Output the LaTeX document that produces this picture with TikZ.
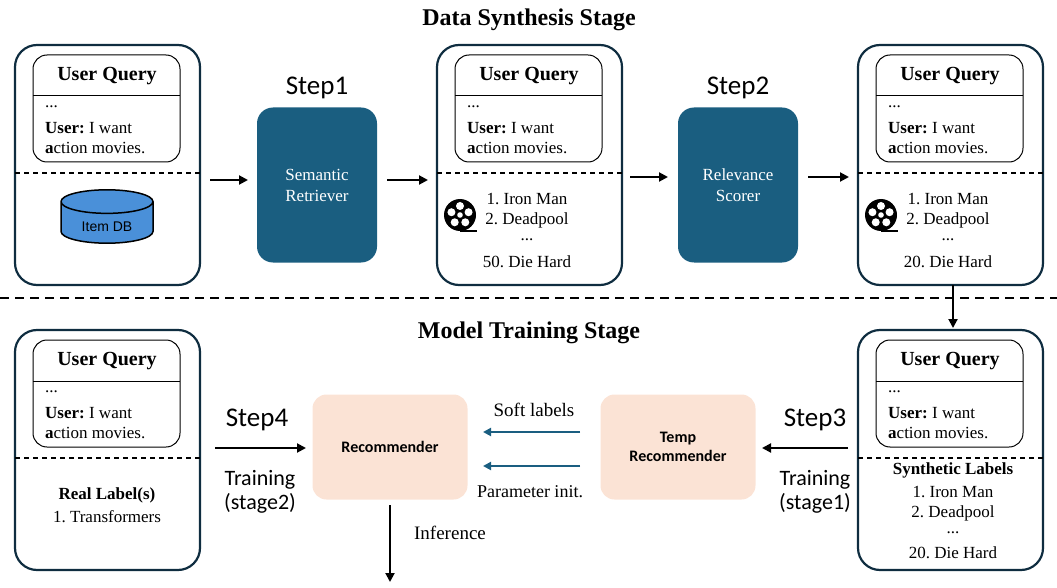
\documentclass[tikz,border=0pt]{standalone}
\usepackage{fontspec}
\setmainfont{Liberation Serif}
\newfontfamily\cf{Carlito}
\newfontfamily\hf{Liberation Sans}
\usetikzlibrary{shapes.geometric,arrows.meta}
\definecolor{dk}{HTML}{0F2D40}
\definecolor{teal}{HTML}{1A5E80}
\definecolor{peach}{HTML}{FBE3D5}
\definecolor{dbblue}{HTML}{4A90D9}
\frenchspacing
\begin{document}
\begin{tikzpicture}[x=1pt,y=-1pt,
 outer/.style={draw=dk,line width=2.2pt,rounded corners=22pt},
 inner/.style={draw=black,line width=1pt,rounded corners=14pt},
 proc/.style={fill=teal,rounded corners=16pt},
 pch/.style={fill=peach,rounded corners=14pt},
 arr/.style={-{Triangle[length=9pt,width=9pt]},line width=2pt},
 barr/.style={-{Triangle[length=8pt,width=8pt]},line width=2pt,draw=teal},
 txt/.style={font=\fontsize{17}{19}\selectfont,inner sep=0pt},
 ttl/.style={font=\fontsize{24}{26}\selectfont\bfseries,inner sep=0pt},
 uq/.style={font=\fontsize{20}{22}\selectfont\bfseries,inner sep=0pt},
 stp/.style={font=\cf\fontsize{27}{29}\selectfont,inner sep=0pt},
 lbl/.style={font=\fontsize{19}{21}\selectfont,inner sep=0pt,align=center}]
\useasboundingbox (0,0) rectangle (1057,588);
\node[ttl] (t1) at (529,20) {Data Synthesis Stage};
\node[ttl] (t2) at (529,333) {Model Training Stage};
\draw[line width=2pt,dash pattern=on 9pt off 6pt] (0,298) -- (1057,298);
\foreach \X/\Y/\W in {15/45/b1,437/45/b2,858/45/b3,15/330/b4,858/330/b5}{
 \draw[outer] (\X,\Y) rectangle ++(185,240);
 \draw[inner] (\X+18,\Y+10) rectangle ++(147,107);
 \draw[line width=1pt] (\X+18,\Y+51) -- ++(147,0);
 \draw[line width=1.2pt,dash pattern=on 5pt off 4pt] (\X,\Y+128) -- ++(185,0);
 \node[uq] at (\X+92,\Y+31) {User Query};
 \node[txt,anchor=west] at (\X+30,\Y+62) {...};
 \node[txt,anchor=west] at (\X+30,\Y+83) {\textbf{User:} I want};
 \node[txt,anchor=west] at (\X+30,\Y+103) {\textbf{a}ction movies.};
}
\node[cylinder,shape border rotate=90,aspect=0.3,draw=black,line width=1.5pt,fill=dbblue,minimum height=48pt,minimum width=92pt,inner xsep=14pt,inner ysep=8pt,font=\hf\fontsize{14}{15}\selectfont] (db) at (107,227) {Item DB};
\node[proc,minimum width=120pt,minimum height=155pt,text=white,align=center,font=\fontsize{17}{21}\selectfont] (sr) at (317,185) {Semantic\\Retriever};
\node[proc,minimum width=120pt,minimum height=155pt,text=white,align=center,font=\fontsize{17}{21}\selectfont] (rs) at (738,185) {Relevance\\Scorer};
\node[stp] (s1) at (317,88) {Step1};
\node[stp] (s2) at (738,88) {Step2};
\coordinate (a1) at (210,180); \coordinate (a1e) at (248,180);
\coordinate (a2) at (387,180); \coordinate (a2e) at (428,180);
\coordinate (a3) at (630,177); \coordinate (a3e) at (668,177);
\coordinate (a4) at (808,177); \coordinate (a4e) at (849,177);
\draw[arr] (a1) -- (a1e);
\draw[arr] (a2) -- (a2e);
\draw[arr] (a3) -- (a3e);
\draw[arr] (a4) -- (a4e);
\foreach \X/\N in {437/50,858/20}{
 \node[txt] at (\X+90,199) {1. Iron Man};
 \node[txt] at (\X+90,220) {2. Deadpool};
 \node[txt] at (\X+90,240) {...};
 \node[txt] at (\X+90,262) {\N. Die Hard};
 \fill (\X+23,215) circle (16pt);
 \draw[line width=1.5pt] (\X+23,231) -- (\X+40,231);
 \foreach \a in {90,162,234,306,18} \fill[white] (\X+23,215) ++(\a:9pt) circle (4pt);
 \fill[white] (\X+23,215) circle (2.8pt);
}
\coordinate (d1) at (953,285); \coordinate (d2) at (953,328);
\draw[arr] (d1) -- (d2);
\node[txt,font=\fontsize{17}{19}\selectfont\bfseries] (rl) at (107,495) {Real Label(s)};
\node[txt] (rl1) at (107,517) {1. Transformers};
\node[txt,font=\fontsize{17}{19}\selectfont\bfseries] (sl) at (953,470) {Synthetic Labels};
\node[txt] at (953,492) {1. Iron Man};
\node[txt] at (953,513) {2. Deadpool};
\node[txt] at (953,533) {...};
\node[txt] at (953,553) {20. Die Hard};
\node[pch,minimum width=155pt,minimum height=105pt,font=\cf\bfseries\fontsize{16}{18}\selectfont] (rec) at (390,447) {Recommender};
\node[pch,minimum width=155pt,minimum height=105pt,align=center,font=\cf\bfseries\fontsize{16}{19}\selectfont] (tr) at (678,447) {Temp\\Recommender};
\coordinate (sl1) at (580,432); \coordinate (sl2) at (483,432);
\coordinate (pi1) at (580,466); \coordinate (pi2) at (483,466);
\draw[barr] (sl1) -- (sl2);
\draw[barr] (pi1) -- (pi2);
\node[lbl] at (534,410) {Soft labels};
\node[lbl,font=\fontsize{18}{20}\selectfont] at (530,492) {Parameter init.};
\node[stp] (s4) at (257,420) {Step4};
\coordinate (b1) at (215,448); \coordinate (b1e) at (306,448);
\draw[arr] (b1) -- (b1e);
\node[lbl,font=\cf\fontsize{22}{24}\selectfont] at (260,492) {Training\\(stage2)};
\node[stp] (s3) at (815,420) {Step3};
\coordinate (b2) at (848,448); \coordinate (b2e) at (762,448);
\draw[arr] (b2) -- (b2e);
\node[lbl,font=\cf\fontsize{22}{24}\selectfont] at (815,492) {Training\\(stage1)};
\coordinate (i1) at (390,505); \coordinate (i2) at (390,582);
\draw[arr] (i1) -- (i2);
\node[lbl] at (450,533) {Inference};
\end{tikzpicture}
\end{document}
